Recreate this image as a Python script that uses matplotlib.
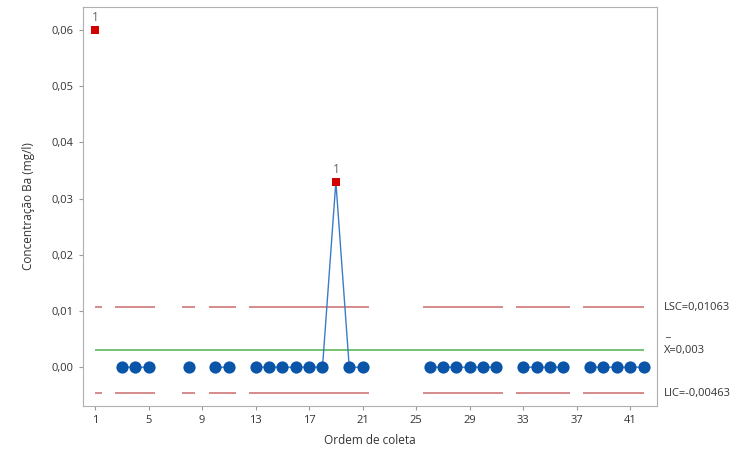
import matplotlib
matplotlib.use("Agg")
import matplotlib.pyplot as plt
import numpy as np

plt.rcParams['font.family'] = ['Open Sans', 'DejaVu Sans']

# Ordem de coleta 1..42 (NaN = sem dado)
ordem = np.arange(1, 43)
conc = [0.06, None, 0, 0, 0, None, None, 0, None, 0, 0, None, 0, 0, 0, 0, 0, 0,
        0.033, 0, 0, None, None, None, None, 0, 0, 0, 0, 0, 0, None, 0, 0, 0, 0,
        None, 0, 0, 0, 0, 0]
lsc = 0.01063
media = 0.003
lic = -0.00463
xticks = [1, 5, 9, 13, 17, 21, 25, 29, 33, 37, 41]
yticks = [0.00, 0.01, 0.02, 0.03, 0.04, 0.05, 0.06]

y = np.array([np.nan if v is None else v for v in conc], dtype=float)
ok = ~np.isnan(y)
fora = ok & ((y > lsc) | (y < lic))
dentro = ok & ~fora

fig = plt.figure(figsize=(7.51, 4.67), dpi=100)
ax = fig.add_axes([0.1105, 0.1306, 0.7643, 0.8544])

# limites de controle, desenhados so onde ha observacao
for xi in ordem[ok]:
    x0 = max(xi - 0.5, ordem[ok][0])
    x1 = min(xi + 0.5, ordem[ok][-1])
    ax.hlines([lsc, lic], x0, x1, colors='#d58a8a', linewidth=1.4, zorder=1)
ax.hlines(media, ordem[ok][0], ordem[ok][-1], colors='#5cb85c', linewidth=1.2, zorder=1)

ax.plot(ordem, y, color='#3a7cc6', linewidth=1.0, zorder=2)
ax.plot(ordem[dentro], y[dentro], 'o', color='#0a55a8', markersize=8.8,
        markeredgewidth=0, zorder=3)
ax.plot(ordem[fora], y[fora], 's', color='#d40000', markersize=5.8,
        markeredgewidth=0, zorder=4)
for xi, yi in zip(ordem[fora], y[fora]):
    ax.annotate('1', (xi, yi), xytext=(0, 4), textcoords='offset points',
                ha='center', va='bottom', fontsize=8.5, color='#666666')

ax.set_xlim(0.1, 43.0)
ax.set_ylim(-0.0069, 0.0641)
ax.set_xticks(xticks)
ax.set_yticks(yticks)
ax.set_yticklabels([f"{v:.2f}".replace('.', ',') for v in yticks])
ax.tick_params(labelsize=8, colors='#333333', length=3, color='#999999')
for s in ax.spines.values():
    s.set_color('#b0b0b0')
    s.set_linewidth(0.8)

ax.set_xlabel('Ordem de coleta', fontsize=8.5, color='#333333', labelpad=6)
ax.set_ylabel('Concentração Ba (mg/l)', fontsize=8.5, color='#333333', labelpad=12)

tr = ax.get_yaxis_transform()
ax.text(1.012, lsc, 'LSC=0,01063', transform=tr, fontsize=8, color='#333333',
        va='center', ha='left', clip_on=False)
ax.text(1.012, media, 'X=0,003', transform=tr, fontsize=8, color='#333333',
        va='center', ha='left', clip_on=False)
ax.annotate('_', (1.012, media), xycoords=tr, xytext=(0.5, 8), textcoords='offset points',
            fontsize=8, color='#333333', va='bottom', ha='left', annotation_clip=False)
ax.text(1.012, lic, 'LIC=-0,00463', transform=tr, fontsize=8, color='#333333',
        va='center', ha='left', clip_on=False)

fig.savefig('out.png', dpi=100)
